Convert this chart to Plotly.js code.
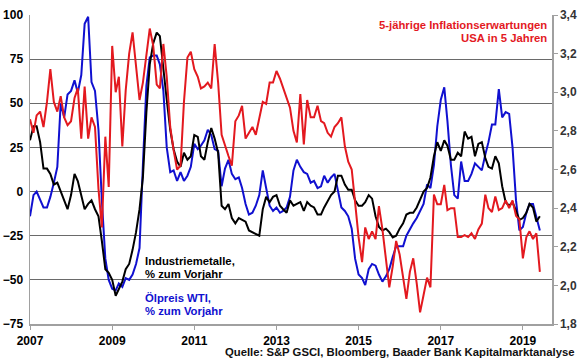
<!DOCTYPE html>
<html>
<head>
<meta charset="utf-8">
<script src="https://cdn.plot.ly/plotly-3.0.1.min.js"></script>
<style>html,body{margin:0;padding:0;background:#fff;}#chart{width:580px;height:359px;}</style>
</head>
<body>
<div id="chart"></div>
<script>
// Monthly observations, starting January 2007
const startYear = 2007;
const yearTicks = ['2007','2009','2011','2013','2015','2017','2019'];
const leftTicks = [-75,-50,-25,0,25,50,75,100];
const rightTicks = [1.8,2.0,2.2,2.4,2.6,2.8,3.0,3.2,3.4];

// Industriemetalle, % zum Vorjahr
const metals = [29,37,37,28,13,13,10,4,5,0,
  -6,-10,-2,10,6,-2,-10,-7,-5,-10,
  -14,-28,-44,-46,-50,-59,-55,-51,-44,-41,
  -33,-23,-10,8,45,72,84,90,88,68,
  52,35,24,17,14,22,18,20,32,31,
  20,18,28,36,30,22,-8,-10,-7,-15,
  -18,-15,-16,-17,-22,-23,-24,-25,-10,-3,
  -6,-3,-2,-8,-10,-12,-5,-8,-7,-6,
  -11,-6,-8,-9,-13,-13,-9,-5,-2,0,
  9,9,4,1,1,-5,-8,-8,-6,-2,
  -4,-14,-20,-22,-21,-23,-26,-25,-21,-18,
  -13,-12,-12,-9,-4,0,2,8,20,28,
  23,29,26,18,18,22,20,34,30,31,
  20,27,28,19,14,13,20,16,3,-6,
  -8,-6,-11,-16,-15,-12,-7,-9,-17,-14];

// Ölpreis WTI, % zum Vorjahr
const wti = [-14,-2,0,-5,-9,-9,-3,5,14,50,
  42,55,57,63,56,66,95,99,62,57,
  35,-5,-38,-50,-55,-56,-52,-54,-49,-50,
  -47,-41,-32,15,60,76,77,77,72,57,
  25,11,12,6,11,6,9,14,27,24,
  26,29,35,32,24,23,3,13,18,10,
  7,8,2,-7,-13,-12,-8,-2,12,2,
  -8,-11,-9,-12,-11,-9,-3,12,18,14,
  11,10,5,6,2,3,9,5,8,10,
  0,-9,-11,-14,-21,-38,-47,-49,-53,-44,
  -41,-42,-47,-51,-48,-44,-37,-31,-31,-31,
  -25,-21,-18,-15,-11,-7,4,2,15,37,
  52,59,40,15,-2,-4,17,6,6,10,
  16,14,12,21,28,38,38,58,42,45,
  44,25,-5,-22,-20,-12,-7,-7,-15,-22];

// 5-jährige Inflationserwartungen USA in 5 Jahren (rechte Achse)
const infl = [2.86,2.79,2.88,2.90,2.82,2.95,3.12,2.95,2.90,2.98,
  2.87,2.83,2.85,2.97,3.02,2.76,3.03,2.76,2.87,2.82,
  2.50,2.30,2.77,2.51,3.24,3.00,3.08,2.72,3.01,3.20,
  3.31,3.15,2.96,3.05,3.20,3.33,3.24,3.04,3.02,3.25,
  3.08,2.82,2.70,2.60,2.62,2.95,3.18,3.21,3.12,3.08,
  3.02,3.03,3.05,3.02,3.25,3.05,2.78,2.72,2.67,2.62,
  2.85,2.88,2.93,2.76,2.79,2.82,2.78,2.87,2.95,2.94,
  3.05,3.05,3.11,3.07,3.02,2.97,2.92,2.80,2.74,2.99,
  2.73,2.96,2.87,2.87,2.93,2.85,2.84,2.79,2.77,2.82,
  2.84,2.87,2.72,2.64,2.60,2.43,2.25,2.12,2.30,2.24,
  2.28,2.24,2.41,2.29,2.13,1.99,2.10,2.23,2.16,2.03,
  1.93,2.07,2.14,2.01,1.86,1.95,2.04,1.99,2.47,2.42,
  2.42,2.52,2.39,2.40,2.40,2.25,2.25,2.26,2.25,2.27,
  2.24,2.29,2.32,2.47,2.40,2.38,2.46,2.39,2.40,2.44,
  2.40,2.44,2.36,2.34,2.14,2.25,2.28,2.24,2.27,2.07];

function monthDates(n){
  const out=[];
  for(let i=0;i<n;i++){
    const y=startYear+Math.floor(i/12), m=(i%12)+1;
    out.push(y+'-'+(m<10?'0':'')+m+'-01');
  }
  return out;
}

const FONT='"Liberation Sans", Arial, sans-serif';
const RED='#e3191f', BLUE='#1010d0', BLACK='#000000';
const AXC='#a0a0a0';

// pixel -> paper helpers for label placement
const L=30, R=28, T=15, B=35, W=580, H=359;
const pw=W-L-R, ph=H-T-B;
const px=x=>(x-L)/pw, py=y=>(H-B-y)/ph;

const traces=[
  {x:monthDates(infl.length), y:infl, yaxis:'y2', type:'scatter', mode:'lines', line:{color:RED,width:2}, hoverinfo:'skip'},
  {x:monthDates(wti.length), y:wti, type:'scatter', mode:'lines', line:{color:BLUE,width:2}, hoverinfo:'skip'},
  {x:monthDates(metals.length), y:metals, type:'scatter', mode:'lines', line:{color:BLACK,width:2}, hoverinfo:'skip'}
];

function ann(text,x,y,color,xanchor,size){
  return {text:text, xref:'paper', yref:'paper', x:px(x), y:py(y), xanchor:xanchor, yanchor:'middle',
    showarrow:false, font:{family:FONT,size:size||11.3,color:color,weight:'bold'}};
}

const layout={
  width:W, height:H,
  margin:{l:L,r:R,t:T,b:B,pad:0},
  paper_bgcolor:'#ffffff', plot_bgcolor:'#ffffff',
  showlegend:false,
  separators:',.',
  font:{family:FONT,size:12,color:'#000',weight:'bold'},
  xaxis:{type:'date', range:['2007-01-01','2019-09-17'],
    tickvals:yearTicks.map(y=>y+'-01-01'), ticktext:yearTicks,
    showgrid:false, zeroline:false, showline:true, linecolor:AXC, linewidth:1.5,
    ticks:'outside', ticklen:4, tickcolor:AXC, tickwidth:1, ticklabelstandoff:1,
    tickfont:{family:FONT,size:12,color:'#000',weight:'bold'}},
  yaxis:{range:[-75,100], tickvals:leftTicks, showgrid:true, gridcolor:'#6a6a6a', gridwidth:1,
    zeroline:false, showline:true, linecolor:AXC, linewidth:1.5, ticks:'', ticklabelstandoff:3,
    tickfont:{family:FONT,size:12,color:'#000',weight:'bold'}},
  yaxis2:{overlaying:'y', side:'right', range:[1.8,3.4], tickvals:rightTicks, tickformat:'.1f',
    showgrid:false, zeroline:false, showline:true, linecolor:AXC, linewidth:1.5,
    ticks:'outside', ticklen:4, tickcolor:AXC,
    tickfont:{family:FONT,size:12,color:'#333',weight:'bold'}},
  annotations:[
    ann('5-jährige Inflationserwartungen',549,24.5,RED,'right'),
    ann('USA in 5 Jahren',549,38,RED,'right'),
    ann('Industriemetalle,',143,261,BLACK,'left'),
    ann('% zum Vorjahr',143,274,BLACK,'left'),
    ann('Ölpreis WTI,',143,298,BLUE,'left'),
    ann('% zum Vorjahr',143,311,BLUE,'left'),
    ann('Quelle: S&P GSCI, Bloomberg, Baader Bank Kapitalmarktanalyse',576,352,'#111','right')
  ]
};

Plotly.newPlot('chart',traces,layout,{staticPlot:true,displayModeBar:false});
</script>
</body>
</html>
